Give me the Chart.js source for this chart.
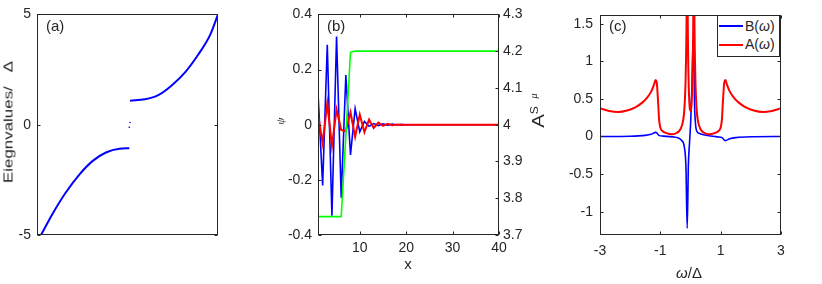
<!DOCTYPE html>
<html lang="en">
<head>
<meta charset="UTF-8">
<title>Eigenvalues, order parameter and spectral functions</title>
<script src="https://cdn.jsdelivr.net/npm/chart.js"></script>
<style>
  body { margin: 0; background: #fff; font-family: "Liberation Sans", Arial, sans-serif; }
  #wrap { position: relative; width: 822px; height: 284px; overflow: hidden; }
  canvas { position: absolute; top: 0; }
  .lbl { position: absolute; color: #262626; white-space: nowrap; line-height: 1; }
  #legC { position: absolute; left: 717px; top: 15px; width: 61px; height: 40px; border: 1px solid #262626; background: #fff; }
  #legC .ln { position: absolute; left: 1px; width: 24px; height: 2px; }
  #legC .tx { position: absolute; left: 27px; font-size: 14px; line-height: 14px; color: #262626; }
</style>
</head>
<body>
<div id="wrap">
  <canvas id="chartA" width="230" height="284" style="left:0"></canvas>
  <canvas id="chartB" width="300" height="284" style="left:230px"></canvas>
  <canvas id="chartC" width="292" height="284" style="left:530px"></canvas>

  <div class="lbl" style="left:46px;top:18px;font-size:15px">(a)</div>
  <div class="lbl" style="left:327px;top:18px;font-size:15px">(b)</div>
  <div class="lbl" style="left:609px;top:18px;font-size:15px">(c)</div>

  <div class="lbl" style="left:8px;top:122px;font-size:13px;transform:translate(-50%,-50%) rotate(-90deg) scaleX(1.3)">Eiegnvalues/&nbsp;&nbsp;&nbsp;Δ</div>
  <div class="lbl" style="left:408px;top:263px;font-size:15px;transform:translate(-50%,-50%)">x</div>
  <div class="lbl" style="left:689px;top:272px;font-size:15px;transform:translate(-50%,-50%)"><i>ω</i>/Δ</div>

  <div id="legC">
    <div class="ln" style="top:9px;background:#0000ff"></div>
    <div class="tx" style="top:3px">B(<i>ω</i>)</div>
    <div class="ln" style="top:28px;background:#ff0000"></div>
    <div class="tx" style="top:21px">A(<i>ω</i>)</div>
  </div>
</div>

<script>
  // (a) eigenvalue branches, x is just the state index scaled to 0..100
  const aLowX = [2.2, 8.7, 16, 23.4, 30.8, 38.1, 45.5, 51];
  const aLowY = [-5, -4.02, -3.06, -2.26, -1.64, -1.26, -1.09, -1.07];
  const aUpX = [51.4, 59.7, 67, 74.4, 81.8, 89.1, 95.6, 100];
  const aUpY = [1.09, 1.15, 1.34, 1.78, 2.37, 3.18, 4.06, 5];
  const aDotX = [51.4, 51];
  const aDotY = [0.1, -0.12];
  const aYTicks = [-5, 0, 5];

  // (b) psi components (left axis) and mu (right axis) vs x
  const bX = [1,2,3,4,5,6,7,8,9,10,11,12,13,14,15,16,17,18,19,20,21,22,23,24,25,26,27,28,29,30,31,32,33,34,35,36,37,38,39,40];
  const bBlue = [0.116,-0.22,0.29,-0.33,0.32,-0.265,0.18,-0.11,0.058,-0.026,0.012,-0.006,0.004,-0.003,0.003,-0.002,0.002,-0.001,0.001,-0.001,0,0,0,0,0,0,0,0,0,0,0,0,0,0,0,0,0,0,0,0];
  const bRed = [0.037,-0.067,0.078,-0.077,0.055,-0.019,-0.024,0.045,-0.044,0.037,-0.027,0.018,-0.012,0.008,-0.004,0.003,-0.002,0.001,-0.001,0,0,0,0,0,0,0,0,0,0,0,0,0,0,0,0,0,0,0,0,0];
  const bGreen = [3.75,3.75,3.75,3.75,3.75,3.75,3.97,4.197,4.2,4.2,4.2,4.2,4.2,4.2,4.2,4.2,4.2,4.2,4.2,4.2,4.2,4.2,4.2,4.2,4.2,4.2,4.2,4.2,4.2,4.2,4.2,4.2,4.2,4.2,4.2,4.2,4.2,4.2,4.2,4.2];
  const bXTicks = [10, 20, 30, 40];
  const bYLTicks = [-0.4, -0.2, 0, 0.2, 0.4];
  const bYRTicks = [3.7, 3.8, 3.9, 4, 4.1, 4.2, 4.3];

  // (c) spectral functions vs omega/Delta
  const cAW = [-3,-2.7,-2.4,-2.1,-1.8,-1.6,-1.45,-1.3,-1.2,-1.16,-1.12,-1.08,-1.04,-1,-0.92,-0.8,-0.6,-0.45,-0.33,-0.25,-0.2,-0.16,-0.13,-0.11,-0.09,-0.06,-0.03,
               0,0.03,0.06,0.09,0.11,0.13,0.16,0.2,0.25,0.33,0.45,0.6,0.8,0.92,1,1.04,1.08,1.12,1.16,1.2,1.3,1.45,1.6,1.8,2.1,2.4,2.7,3];
  const cA = [0.375,0.34,0.325,0.345,0.395,0.45,0.51,0.6,0.7,0.75,0.72,0.5,0.22,0.12,0.07,0.045,0.03,0.05,0.1,0.2,0.38,0.8,1.6,3,1.5,0.7,0.4,
              0.34,0.4,0.7,1.5,3,1.6,0.8,0.38,0.2,0.1,0.05,0.03,0.045,0.07,0.12,0.22,0.5,0.72,0.75,0.7,0.6,0.51,0.45,0.395,0.345,0.325,0.34,0.375];
  const cBW = [-3,-2,-1.5,-1.3,-1.15,-1.1,-1.05,-0.9,-0.6,-0.4,-0.3,-0.2,-0.15,-0.11,-0.07,-0.03,0.01,0.05,0.09,0.11,0.13,0.16,0.21,0.3,0.4,0.6,0.9,1.05,1.1,1.15,1.3,1.5,2,3];
  const cB = [0,0.003,0.015,0.03,0.055,0.04,0.015,0.005,-0.005,-0.02,-0.05,-0.15,-0.42,-1.22,-0.38,-0.07,0.23,0.7,1.3,1.2,0.5,0.2,0.07,0.04,0.025,0.01,-0.005,-0.015,-0.04,-0.055,-0.03,-0.015,-0.003,0];
  const cXTicks = [-3, -1, 1, 3];
  const cYTicks = [-1, -0.5, 0, 0.5, 1, 1.5];

  const tickFont = { family: "'Liberation Sans Narrow', 'Liberation Sans', Arial, sans-serif", size: 14 };
  const ink = '#262626';

  const pts = (xs, ys) => xs.map((x, i) => ({ x, y: ys[i] }));

  // matlab-like box with inward tick marks
  const boxTicks = {
    id: 'boxTicks',
    afterDraw(chart, args, opts) {
      const { ctx, chartArea: a } = chart;
      const L = Math.round(a.left) + 0.5, R = Math.round(a.right) - 0.5;
      const T = Math.round(a.top) + 0.5, B = Math.round(a.bottom) - 0.5;
      ctx.save();
      ctx.strokeStyle = ink;
      ctx.lineWidth = 1;
      ctx.strokeRect(L, T, R - L, B - T);
      ctx.beginPath();
      Object.values(chart.scales).forEach(s => {
        if (s.options.display === false) return;
        s.ticks.forEach(t => {
          const p = Math.round(s.getPixelForValue(t.value)) + 0.5;
          if (s.isHorizontal()) {
            ctx.moveTo(p, B); ctx.lineTo(p, B - 3);
            ctx.moveTo(p, T); ctx.lineTo(p, T + 3);
          } else {
            if (opts.both || s.position === 'left') { ctx.moveTo(L, p); ctx.lineTo(L + 3, p); }
            if (opts.both || s.position === 'right') { ctx.moveTo(R, p); ctx.lineTo(R - 3, p); }
          }
        });
      });
      ctx.stroke();
      ctx.restore();
    }
  };

  // rotated axis titles drawn on the canvas (reads bottom to top)
  function rotTitles(items) {
    return {
      id: 'rotTitles',
      afterDraw(chart) {
        const ctx = chart.ctx;
        items.forEach(it => {
          ctx.save();
          ctx.translate(it.x, it.y);
          ctx.rotate(-Math.PI / 2);
          ctx.scale(it.sx || 1, 1);
          ctx.fillStyle = ink;
          ctx.textBaseline = 'middle';
          ctx.textAlign = 'left';
          let w = 0;
          it.parts.forEach(p => { ctx.font = p.font; w += ctx.measureText(p.text).width; });
          let cx = -w / 2;
          it.parts.forEach(p => {
            ctx.font = p.font;
            ctx.fillText(p.text, cx, p.dy || 0);
            cx += ctx.measureText(p.text).width;
          });
          ctx.restore();
        });
      }
    };
  }

  function axis(extra, ticks, pad) {
    return Object.assign({
      type: 'linear',
      grid: { display: false, drawTicks: false },
      border: { display: false },
      afterBuildTicks: s => { s.ticks = ticks.map(v => ({ value: v })); },
      ticks: { font: tickFont, color: ink, padding: pad, callback: v => String(v) }
    }, extra);
  }

  const common = {
    responsive: false,
    animation: false,
    plugins: { legend: { display: false }, tooltip: { enabled: false }, boxTicks: { both: true } }
  };

  new Chart(document.getElementById('chartA'), {
    type: 'line',
    data: {
      datasets: [
        { data: pts(aLowX, aLowY), borderColor: '#0000ff', borderWidth: 2, pointRadius: 0, cubicInterpolationMode: 'monotone' },
        { data: pts(aUpX, aUpY), borderColor: '#0000ff', borderWidth: 2, pointRadius: 0, cubicInterpolationMode: 'monotone' },
        { data: pts(aDotX, aDotY), showLine: false, pointRadius: 0.8, pointBorderWidth: 0, pointBackgroundColor: '#0000ff' }
      ]
    },
    options: Object.assign({}, common, {
      layout: { padding: { top: 7, right: 12, bottom: 49, left: 0 } },
      scales: {
        x: { type: 'linear', min: 0, max: 100, display: false },
        y: axis({ min: -5, max: 5, afterFit: s => { s.width = 37; } }, aYTicks, 6)
      }
    }),
    plugins: [boxTicks]
  });

  new Chart(document.getElementById('chartB'), {
    type: 'line',
    data: {
      labels: bX,
      datasets: [
        { data: bGreen, yAxisID: 'y1', borderColor: '#00ff00', borderWidth: 1.6, pointRadius: 0, tension: 0 },
        { data: bRed, yAxisID: 'y', borderColor: '#ff0000', borderWidth: 2, pointRadius: 0, tension: 0 },
        { data: bBlue, yAxisID: 'y', borderColor: '#0000ff', borderWidth: 1.6, pointRadius: 0, tension: 0 }
      ]
    },
    options: Object.assign({}, common, {
      layout: { padding: { top: 7, right: 0, bottom: 0, left: 0 } },
      plugins: { legend: { display: false }, tooltip: { enabled: false }, boxTicks: { both: false } },
      scales: {
        x: axis({ min: 1, max: 40, afterFit: s => { s.height = 49; } }, bXTicks, 5),
        y: axis({ position: 'left', min: -0.4, max: 0.4, afterFit: s => { s.width = 88; } }, bYLTicks, 6),
        y1: axis({ position: 'right', min: 3.7, max: 4.3, afterFit: s => { s.width = 31; } }, bYRTicks, 4)
      }
    }),
    plugins: [boxTicks, rotTitles([
      { x: 51, y: 121, parts: [{ text: 'ψ', font: "italic 11px 'Liberation Serif', serif" }] }
    ])]
  });

  new Chart(document.getElementById('chartC'), {
    type: 'line',
    data: {
      datasets: [
        { label: 'A(ω)', data: pts(cAW, cA), borderColor: '#ff0000', borderWidth: 2, pointRadius: 0, cubicInterpolationMode: 'monotone' },
        { label: 'B(ω)', data: pts(cBW, cB), borderColor: '#0000ff', borderWidth: 1.6, pointRadius: 0, cubicInterpolationMode: 'monotone' }
      ]
    },
    options: Object.assign({}, common, {
      layout: { padding: { top: 7, right: 41, bottom: 0, left: 0 } },
      scales: {
        x: axis({ min: -3, max: 3, afterFit: s => { s.height = 49; } }, cXTicks, 8),
        y: axis({ min: -1.31, max: 1.61, afterFit: s => { s.width = 70; } }, cYTicks, 7)
      }
    }),
    plugins: [boxTicks, rotTitles([
      { x: 4, y: 96, parts: [{ text: 'μ', font: "italic 10px 'Liberation Serif', serif" }] },
      { x: 9, y: 117, sx: 1.2, parts: [
        { text: 'A', font: "17px 'Liberation Sans', Arial, sans-serif" },
        { text: 'S', font: "10px 'Liberation Sans', Arial, sans-serif", dy: -4 }
      ] }
    ])]
  });
</script>
</body>
</html>
